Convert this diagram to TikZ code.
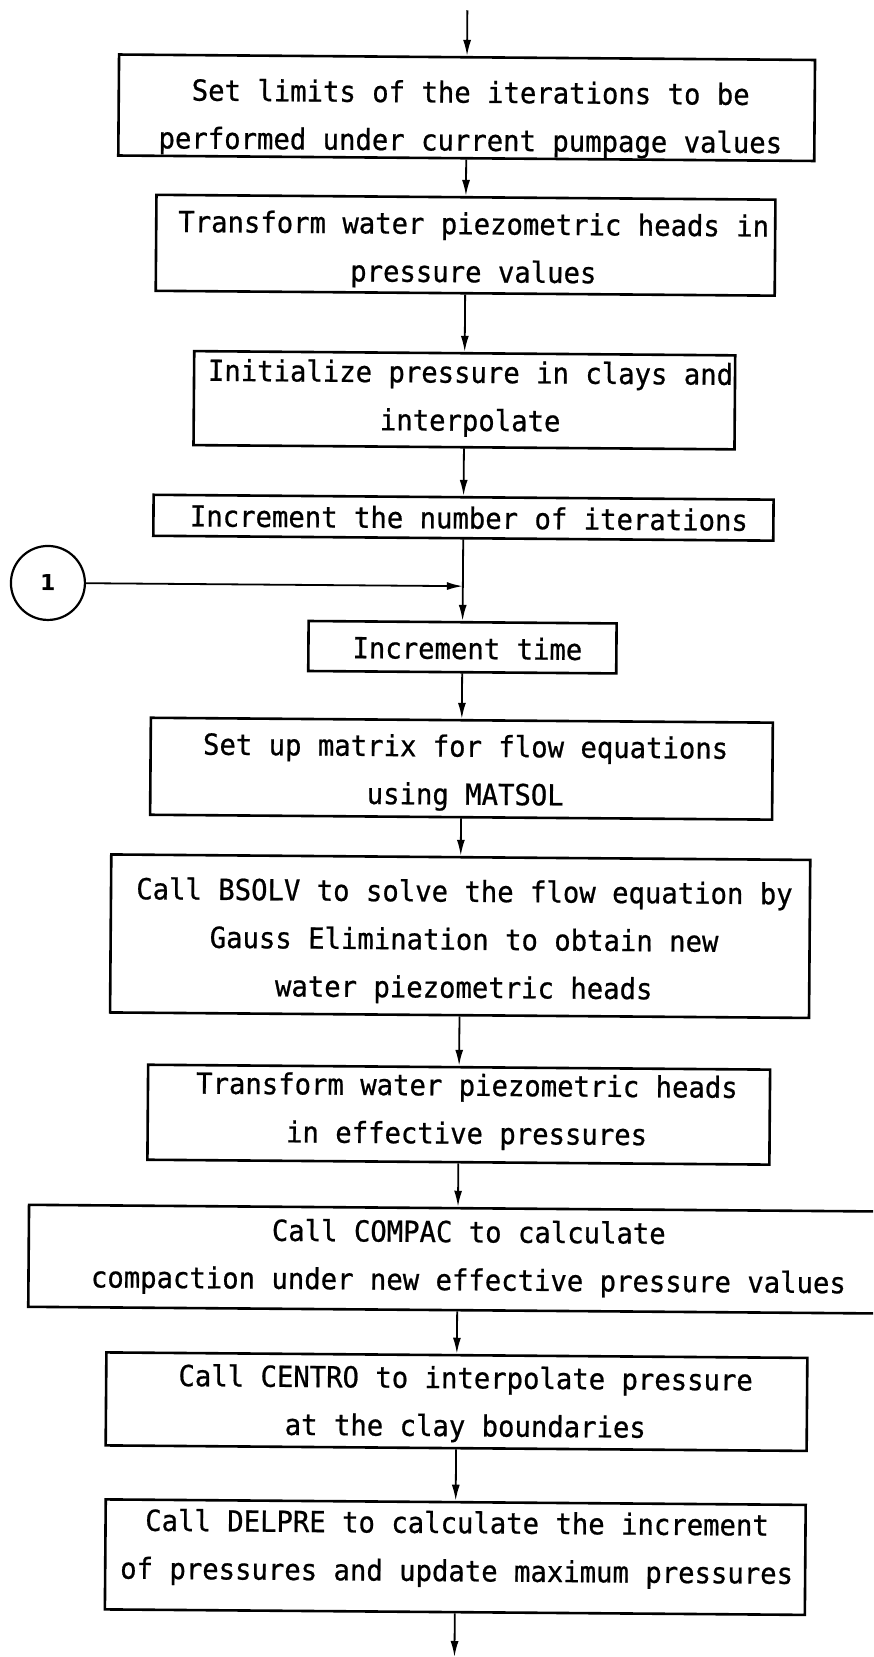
\documentclass[tikz,border=0pt]{standalone}
\usepackage{fontspec}
\newfontfamily\tw[FakeStretch=0.94,FakeBold=0.7]{DejaVu Sans Mono}
\newfontfamily\numfont{DejaVu Sans}
\usetikzlibrary{arrows.meta}
\begin{document}
\begin{tikzpicture}[x=1pt,y=-1pt,
  box/.style={draw, line width=2.6pt, inner sep=0pt, transform shape},
  txt/.style={inner sep=0pt, align=center, transform shape,
    font=\tw\fontsize{29}{48}\selectfont},
  arr/.style={line width=1.8pt, -{Latex[length=16pt,width=8pt]}},
  conn/.style={draw, circle, line width=2.2pt, minimum size=74pt, inner sep=0pt,
    font=\numfont\bfseries\fontsize{22}{22}\selectfont, transform shape}]
\fill[white] (0,0) rectangle (873,1657);
\useasboundingbox (0,0) rectangle (873,1657);
\clip (0,0) rectangle (873,1657);
\begin{scope}[rotate around={-0.45:(436.5,828.5)}]
% boxes
\node[box, minimum width=696pt, minimum height=101pt] (b1) at (461,107.5) {};
\node[box, minimum width=619pt, minimum height=96pt] (b2) at (461,245) {};
\node[box, minimum width=541pt, minimum height=94pt] (b3) at (461,400) {};
\node[box, minimum width=620pt, minimum height=41pt] (b4) at (461,517.5) {};
\node[box, minimum width=308pt, minimum height=50pt] (b5) at (461,647) {};
\node[box, minimum width=622pt, minimum height=97pt] (b6) at (461,768.5) {};
\node[box, minimum width=699pt, minimum height=158pt] (b7) at (461,936) {};
\node[box, minimum width=622pt, minimum height=95pt] (b8) at (461,1114.5) {};
\node[box, minimum width=884pt, minimum height=102pt] (b9) at (474,1259) {};
\node[box, minimum width=701pt, minimum height=93pt] (b10) at (461,1401.5) {};
\node[box, minimum width=700pt, minimum height=110pt] (b11) at (461,1557) {};
% texts
\node[txt] (t1) at (465,118.5)
  {Set limits of the iterations to be\\performed under current pumpage values};
\node[txt] (t2) at (469,250)
  {Transform water piezometric heads in\\pressure values};
\node[txt] (t3) at (467,398.5)
  {Initialize pressure in clays and\\interpolate};
\node[txt] (t4) at (466.5,517.5)
  {Increment the number of iterations};
\node[txt] (t5) at (466,648)
  {Increment time};
\node[txt] (t6) at (465,772.5)
  {Set up matrix for flow equations\\using MATSOL};
\node[txt] (t7) at (465,941.5)
  {Call BSOLV to solve the flow equation by\\Gauss Elimination to obtain new\\water piezometric heads};
\node[txt] (t8) at (469,1111.5)
  {Transform water piezometric heads\\in effective pressures};
\node[txt] (t9) at (472,1258)
  {Call COMPAC to calculate\\compaction under new effective pressure values};
\node[txt] (t10) at (470,1404)
  {Call CENTRO to interpolate pressure\\at the clay boundaries};
\node[txt] (t11) at (462.5,1549)
  {Call DELPRE to calculate the increment\\of pressures and update maximum pressures};
\node[conn] (c1) at (46,586) {1};
\coordinate (top) at (461,10);
\coordinate (j) at (461,586);
\coordinate (bot) at (461,1657);
\draw[arr] (top) -- (top |- b1.north);
\draw[arr] (b1.south) -- (b1.south |- b2.north);
\draw[arr] (b2.south) -- (b2.south |- b3.north);
\draw[arr] (b3.south) -- (b3.south |- b4.north);
\draw[arr] (b4.south) -- (b4.south |- b5.north);
\draw[arr] (c1) -- (j);
\draw[arr] (b5.south) -- (b5.south |- b6.north);
\draw[arr] (b6.south) -- (b6.south |- b7.north);
\draw[arr] (b7.south) -- (b7.south |- b8.north);
\draw[arr] (b8.south) -- (b8.south |- b9.north);
\draw[arr] (b9.south -| b10.north) -- (b10.north);
\draw[arr] (b10.south) -- (b10.south |- b11.north);
\draw[arr] (b11.south) -- (b11.south |- bot);
\end{scope}
\end{tikzpicture}
\end{document}
